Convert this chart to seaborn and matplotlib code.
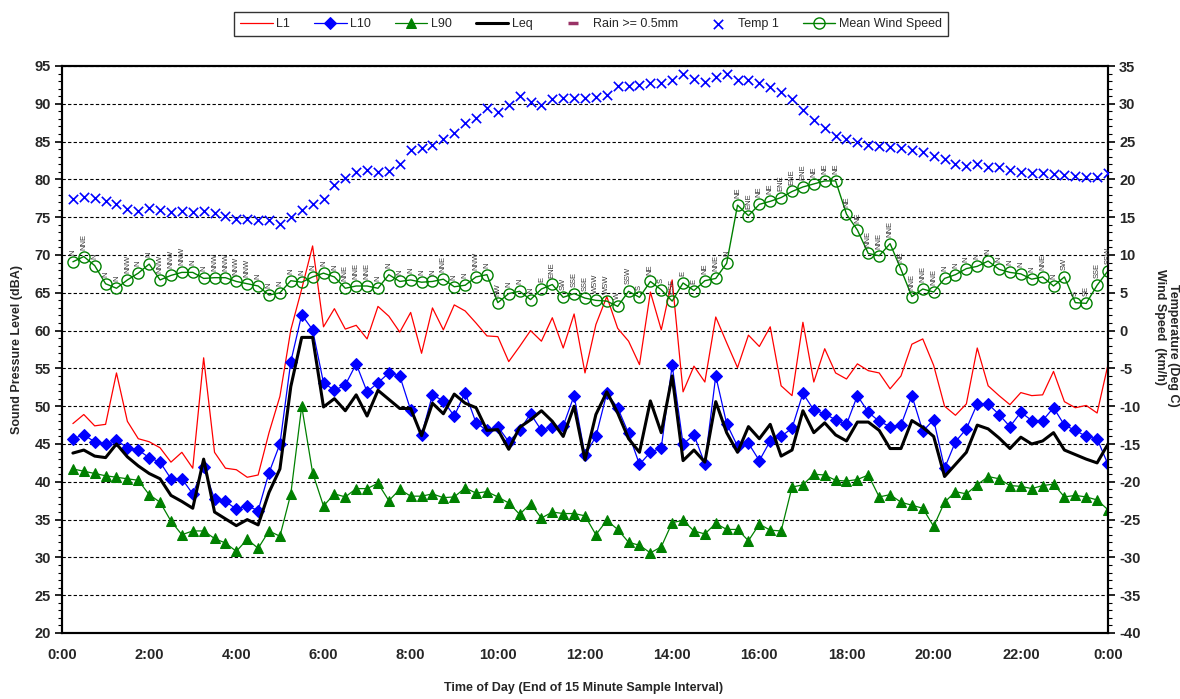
import numpy as np
import pandas as pd
import matplotlib
matplotlib.use("Agg")
import matplotlib.pyplot as plt
import seaborn as sns
from matplotlib.ticker import MultipleLocator

# ---- 15-minute interval data (interval end times 0:15 ... 24:00) ----
interval_end_h = np.arange(1, 97) * 0.25

L1 = [47.7, 48.9, 47.4, 47.6, 54.4, 48.0, 45.7, 45.3, 44.5, 42.6, 43.9, 41.8,
      56.4, 43.9, 41.8, 41.6, 40.6, 40.9, 46.5, 51.3, 60.1, 65.5, 71.2, 60.5,
      62.9, 60.2, 60.7, 58.9, 63.2, 61.9, 59.8, 62.4, 57.0, 63.0, 60.1, 63.4,
      62.6, 61.0, 59.3, 59.2, 55.9, 57.9, 60.0, 58.6, 61.7, 57.7, 62.2, 54.4,
      60.8, 64.5, 60.3, 58.6, 55.5, 65.1, 60.1, 66.7, 51.9, 55.3, 53.2, 61.8,
      58.4, 55.1, 59.4, 57.9, 60.5, 52.7, 51.4, 61.1, 53.2, 57.6, 54.4, 53.6,
      55.6, 54.7, 54.4, 52.3, 54.0, 58.2, 58.9, 55.4, 50.0, 48.8, 50.3, 57.7,
      52.7, 51.4, 50.2, 51.8, 51.4, 51.5, 54.6, 50.6, 49.8, 50.1, 49.1, 55.5]

L10 = [45.7, 46.2, 45.3, 45.0, 45.5, 44.5, 44.2, 43.2, 42.6, 40.4, 40.4, 38.4,
       41.9, 37.7, 37.4, 36.4, 36.8, 36.2, 41.2, 45.0, 55.9, 62.1, 60.1, 53.1,
       52.1, 52.8, 55.6, 51.9, 53.1, 54.4, 54.0, 49.5, 46.2, 51.5, 50.7, 48.7,
       51.8, 47.8, 46.8, 47.3, 45.3, 46.8, 49.0, 46.8, 47.2, 47.4, 51.4, 43.5,
       46.0, 51.7, 49.8, 46.4, 42.3, 43.9, 44.5, 55.4, 45.0, 46.2, 42.4, 54.0,
       47.7, 44.7, 45.1, 42.8, 45.4, 46.0, 47.1, 51.7, 49.5, 49.0, 48.2, 47.6,
       51.4, 49.2, 48.0, 47.3, 47.5, 51.4, 46.7, 48.2, 41.8, 45.3, 47.0, 50.3,
       50.3, 48.9, 47.3, 49.2, 48.1, 48.1, 49.8, 47.5, 46.8, 46.0, 45.7, 42.3]

L90 = [41.7, 41.4, 41.1, 40.8, 40.6, 40.4, 40.2, 38.3, 37.3, 34.8, 33.0, 33.5,
       33.5, 32.5, 31.9, 30.8, 32.4, 31.2, 33.5, 32.8, 38.4, 50.0, 41.2, 36.8,
       38.4, 38.0, 39.1, 39.1, 39.8, 37.5, 39.0, 38.1, 38.1, 38.4, 37.9, 38.0,
       39.2, 38.5, 38.7, 38.0, 37.2, 35.7, 37.1, 35.2, 36.0, 35.8, 35.8, 35.5,
       33.0, 34.9, 33.7, 32.0, 31.6, 30.6, 31.4, 34.6, 34.9, 33.5, 33.1, 34.5,
       33.7, 33.7, 32.2, 34.4, 33.6, 33.5, 39.3, 39.6, 41.0, 40.9, 40.2, 40.1,
       40.3, 40.9, 38.0, 38.3, 37.3, 36.9, 36.5, 34.1, 37.3, 38.7, 38.4, 39.6,
       40.7, 40.4, 39.5, 39.4, 39.1, 39.5, 39.7, 38.0, 38.2, 38.0, 37.6, 36.3]

Leq = [43.8, 44.2, 43.4, 43.2, 45.0, 43.3, 42.1, 41.1, 40.4, 38.2, 37.4, 36.5,
       43.0, 36.0, 35.1, 34.2, 35.0, 34.3, 38.6, 41.7, 52.6, 59.1, 59.1, 49.9,
       51.0, 49.4, 51.5, 48.7, 52.1, 50.9, 49.7, 49.7, 46.1, 50.4, 49.0, 51.6,
       50.4, 49.8, 46.8, 46.9, 44.3, 47.2, 48.2, 49.4, 48.0, 46.0, 50.0, 42.9,
       48.9, 51.9, 49.1, 45.7, 43.9, 50.7, 46.5, 54.0, 42.8, 44.2, 42.6, 50.6,
       46.5, 43.9, 47.3, 45.7, 47.6, 43.4, 44.2, 49.4, 46.5, 47.8, 46.2, 45.4,
       47.9, 47.9, 46.8, 44.4, 44.4, 48.1, 47.2, 46.0, 40.7, 42.3, 43.9, 47.5,
       47.0, 45.8, 44.4, 45.9, 45.0, 45.4, 46.5, 44.2, 43.6, 43.0, 42.5, 45.0]

temp_c = [17.4, 17.7, 17.6, 17.2, 16.7, 16.1, 15.8, 16.2, 15.9, 15.7, 15.8, 15.7,
          15.8, 15.5, 15.1, 14.7, 14.7, 14.6, 14.6, 14.1, 15.0, 15.9, 16.7, 17.4,
          19.2, 20.2, 21.0, 21.3, 21.0, 21.1, 22.0, 23.9, 24.2, 24.6, 25.3, 26.1,
          27.4, 28.1, 29.4, 28.9, 29.9, 31.0, 30.2, 29.9, 30.7, 30.8, 30.8, 30.8,
          30.9, 31.2, 32.4, 32.4, 32.5, 32.8, 32.7, 33.2, 34.0, 33.3, 32.9, 33.5,
          34.0, 33.2, 33.1, 32.8, 32.2, 31.5, 30.6, 29.2, 27.9, 26.8, 25.8, 25.3,
          24.9, 24.6, 24.4, 24.3, 24.2, 23.9, 23.6, 23.1, 22.7, 22.1, 21.8, 22.0,
          21.6, 21.7, 21.3, 21.0, 20.8, 20.8, 20.7, 20.6, 20.4, 20.3, 20.3, 20.8]

wind_kmh = [9.1, 9.8, 8.6, 6.2, 5.6, 6.7, 7.6, 8.8, 6.7, 7.3, 7.7, 7.7,
            6.9, 7.0, 7.0, 6.5, 6.2, 5.9, 4.7, 5.0, 6.6, 6.4, 7.1, 7.6,
            7.1, 5.6, 5.9, 5.9, 5.6, 7.4, 6.5, 6.7, 6.4, 6.5, 6.8, 5.8,
            6.0, 7.1, 7.4, 3.7, 4.9, 5.2, 4.1, 5.5, 6.1, 4.4, 4.9, 4.3,
            4.0, 3.9, 3.2, 5.2, 4.4, 6.5, 5.4, 3.9, 6.3, 5.3, 6.6, 6.9,
            8.9, 16.6, 15.2, 16.7, 17.1, 17.6, 18.4, 19.0, 19.4, 19.8, 19.8, 15.4,
            13.3, 10.2, 9.9, 11.5, 8.1, 4.5, 5.5, 5.1, 6.9, 7.4, 8.2, 8.5,
            9.2, 8.1, 7.7, 7.5, 6.8, 7.1, 5.9, 7.1, 3.7, 3.6, 6.0, 7.9]

wind_dir = ['N', 'NNE', 'N', 'N', 'N', 'NNW', 'N', 'N', 'NNW', 'NNW', 'NNW', 'N',
            'N', 'NNW', 'NNW', 'NNW', 'NNW', 'N', 'N', 'N', 'N', 'N', 'N', 'N',
            'N', 'NNE', 'NNE', 'NNE', 'N', 'N', 'N', 'N', 'N', 'N', 'NNE', 'N',
            'N', 'NNW', 'N', 'NW', 'N', 'N', 'N', 'E', 'ENE', 'SW', 'SSE', 'SSE',
            'WSW', 'WSW', 'W', 'SSW', 'S', 'NE', 'S', 'ESE', 'E', 'E', 'NE', 'NNE',
            'N', 'NE', 'ENE', 'NE', 'NE', 'ENE', 'ENE', 'ENE', 'NE', 'NE', 'NE', 'NE',
            'NE', 'NNE', 'NNE', 'NNE', 'NE', 'NNE', 'NNE', 'NNE', 'N', 'N', 'N', 'N',
            'N', 'N', 'N', 'N', 'N', 'NNE', 'N', 'SW', 'S', 'SE', 'SSE', 'SSW']

# Intervals with rain >= 0.5 mm (none during this day)
rain_hours = []
rain_mm = []

x_tick_hours = list(range(0, 25, 2))
x_tick_labels = ['0:00', '2:00', '4:00', '6:00', '8:00', '10:00', '12:00',
                 '14:00', '16:00', '18:00', '20:00', '22:00', '0:00']

df = pd.DataFrame({'t': interval_end_h, 'L1': L1, 'L10': L10, 'L90': L90,
                   'Leq': Leq, 'temp': temp_c, 'wind': wind_kmh, 'dir': wind_dir})

# ---- figure ----
sns.set_theme(style="white")
plt.rcParams['font.family'] = ['Liberation Sans', 'DejaVu Sans']
plt.rcParams['axes.unicode_minus'] = False

W, H = 1180, 699
fig = plt.figure(figsize=(W / 100, H / 100), dpi=100)
ax = fig.add_axes([62 / W, 1 - 633 / H, (1108 - 62) / W, (633 - 66) / H])
ax2 = ax.twinx()

RED, BLUE, GREEN = '#FF0000', '#0000FF', '#008000'

sns.lineplot(data=df, x='t', y='L1', color=RED, lw=0.9, ax=ax,
             estimator=None, sort=False, label='L1')
sns.lineplot(data=df, x='t', y='L10', color=BLUE, lw=0.9, marker='D', ms=6,
             markeredgecolor=BLUE, markerfacecolor=BLUE, ax=ax,
             estimator=None, sort=False, label='L10')
sns.lineplot(data=df, x='t', y='L90', color=GREEN, lw=0.9, marker='^', ms=7,
             markeredgecolor=GREEN, markerfacecolor=GREEN, ax=ax,
             estimator=None, sort=False, label='L90')
sns.lineplot(data=df, x='t', y='Leq', color='black', lw=2.2, ax=ax,
             estimator=None, sort=False, label='Leq')

rain_line, = ax2.plot(rain_hours, rain_mm, ls='none', marker='_', ms=7, mew=2.5,
                      color='#993366', label='Rain >= 0.5mm')
sns.scatterplot(data=df, x='t', y='temp', marker='x', color=BLUE, s=45,
                linewidth=1.2, ax=ax2, label='Temp 1', zorder=3)
sns.lineplot(data=df, x='t', y='wind', color=GREEN, lw=1.0, marker='o', ms=8,
             markerfacecolor='none', markeredgecolor=GREEN, markeredgewidth=1.0,
             ax=ax2, estimator=None, sort=False, label='Mean Wind Speed')

# wind direction labels above each wind-speed point
for t, w, d in zip(df['t'], df['wind'], df['dir']):
    ax2.annotate(d, (t, w), xytext=(0, 5), textcoords='offset points',
                 rotation=90, ha='center', va='bottom', fontsize=5.5,
                 color='#333333')

# ---- axes ----
ax.set_xlim(0, 24)
ax.set_ylim(20, 95)
ax2.set_ylim(-40, 35)
ax.set_xticks(x_tick_hours)
ax.set_xticklabels(x_tick_labels)
ax.yaxis.set_major_locator(MultipleLocator(5))
ax.yaxis.set_minor_locator(MultipleLocator(1))
ax2.yaxis.set_major_locator(MultipleLocator(5))
ax2.yaxis.set_minor_locator(MultipleLocator(1))

ax.set_axisbelow(True)
ax.yaxis.grid(True, ls=(0, (3, 2)), color='black', lw=0.8)
ax.xaxis.grid(False)

for a in (ax, ax2):
    for s in a.spines.values():
        s.set_color('black')
        s.set_linewidth(1.5)
    a.set_xlabel('')
    a.set_ylabel('')
    a.tick_params(axis='both', which='major', direction='out', length=5,
                  width=1.2, color='black', labelsize=10.5, pad=3)
    a.tick_params(axis='y', which='minor', direction='out', length=3,
                  width=0.8, color='black')
    for lab in a.get_xticklabels() + a.get_yticklabels():
        lab.set_fontweight('bold')
ax.tick_params(axis='x', pad=6)
ax.tick_params(axis='y', left=True)
ax2.tick_params(axis='y', right=True)

leg_handles = []
leg_labels = []
for a in (ax, ax2):
    h, l = a.get_legend_handles_labels()
    leg_handles += h
    leg_labels += l
    if a.get_legend() is not None:
        a.get_legend().remove()
order = ['L1', 'L10', 'L90', 'Leq', 'Rain >= 0.5mm', 'Temp 1', 'Mean Wind Speed']
hmap = dict(zip(leg_labels, leg_handles))
leg = fig.legend([hmap[k] for k in order], order, loc='center',
                 bbox_to_anchor=(591 / W, 1 - 24 / H), ncol=7, frameon=True,
                 fancybox=False, edgecolor='black', fontsize=9,
                 handlelength=2.6, columnspacing=1.9, handletextpad=0.3,
                 borderpad=0.5)
leg.get_frame().set_linewidth(1.0)

fig.text(17 / W, 1 - 350 / H, 'Sound Pressure Level (dBA)', rotation=90,
         ha='center', va='center', fontsize=9, fontweight='bold')
fig.text(1160 / W, 1 - 327 / H, 'Wind Speed  (km/h)', rotation=270,
         ha='center', va='center', fontsize=9, fontweight='bold')
fig.text(1173 / W, 1 - 345 / H, 'Temperature (Deg C)', rotation=270,
         ha='center', va='center', fontsize=9, fontweight='bold')
fig.text(584 / W, 1 - 688 / H, 'Time of Day (End of 15 Minute Sample Interval)',
         ha='center', va='center', fontsize=9, fontweight='bold')

fig.savefig('out.png', dpi=100)
